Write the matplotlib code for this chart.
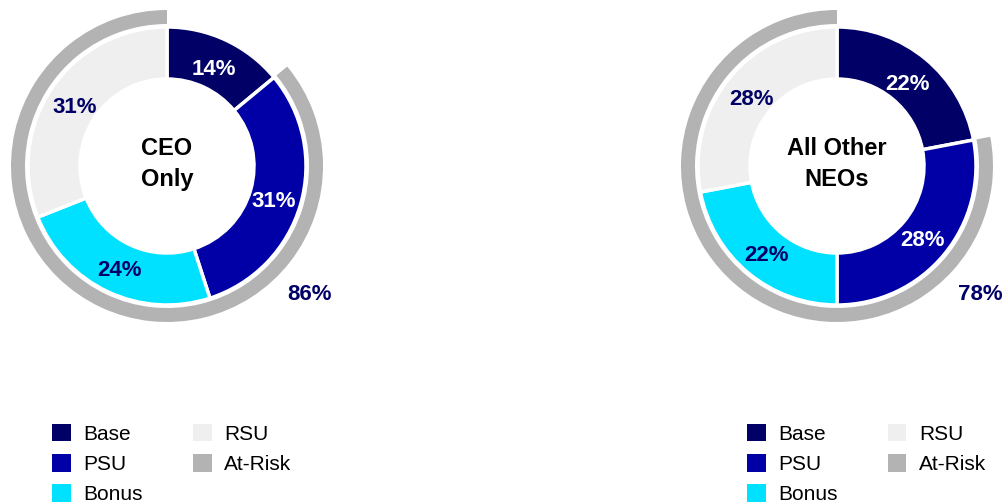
import matplotlib.pyplot as plt
from matplotlib.patches import Patch

plt.rcParams["font.family"] = ["Liberation Sans", "DejaVu Sans"]

# data
categories = ["Base", "PSU", "Bonus", "RSU"]
ceo_values = [14, 31, 24, 31]
neo_values = [22, 28, 22, 28]
ceo_at_risk = 86
neo_at_risk = 78
titles = ["CEO\nOnly", "All Other\nNEOs"]

colors = ["#000066", "#0000A6", "#00E1FF", "#EFEFEF"]
risk_color = "#B3B3B3"
label_colors = ["white", "white", "#000066", "#000066"]

W, H = 1003, 504
fig = plt.figure(figsize=(W / 100, H / 100), dpi=100)
ax = fig.add_axes([0, 0, 1, 1])

centers = [(167, H - 166), (837, H - 166)]
r_out, r_width = 139, 52
g_out, g_width = 156, 14

for (cx, cy), vals, risk, title in zip(centers, [ceo_values, neo_values],
                                       [ceo_at_risk, neo_at_risk], titles):
    # at-risk outer ring
    ax.pie([100 - risk, risk], center=(cx, cy), radius=g_out, startangle=90,
           counterclock=False, colors=["none", risk_color],
           wedgeprops=dict(width=g_width, linewidth=0))
    # main ring
    wedges, texts, autotexts = ax.pie(
        vals, center=(cx, cy), radius=r_out, startangle=90, counterclock=False,
        colors=colors, autopct=lambda p: f"{p:.0f}%", pctdistance=0.80,
        wedgeprops=dict(width=r_width, edgecolor="white", linewidth=2.5))
    for t, c in zip(autotexts, label_colors):
        t.set_color(c)
        t.set_fontsize(16)
        t.set_fontweight("bold")
        x, y = t.get_position()
        t.set_position((x, y - 4))
    ax.text(cx, cy + 2, title, ha="center", va="center", fontsize=17,
            fontweight="bold", color="black", linespacing=1.45)
    ax.text(cx + 143, cy - 128, f"{risk}%", ha="center", va="center",
            fontsize=16, fontweight="bold", color="#000066")

ax.set_xlim(0, W)
ax.set_ylim(0, H)
ax.set_aspect("equal")
ax.axis("off")

handles = [Patch(facecolor=c, edgecolor="none") for c in colors + [risk_color]]
labels = categories + ["At-Risk"]
for x0 in [52, 747]:
    fig.legend(handles, labels, ncol=2, loc="upper left",
               bbox_to_anchor=(x0 / W, 1 - 424 / H), frameon=False,
               fontsize=15, handlelength=0.9, handleheight=0.9,
               handletextpad=0.6, labelspacing=0.5, columnspacing=2.4,
               borderpad=0, borderaxespad=0)

fig.savefig("out.png", dpi=100)
